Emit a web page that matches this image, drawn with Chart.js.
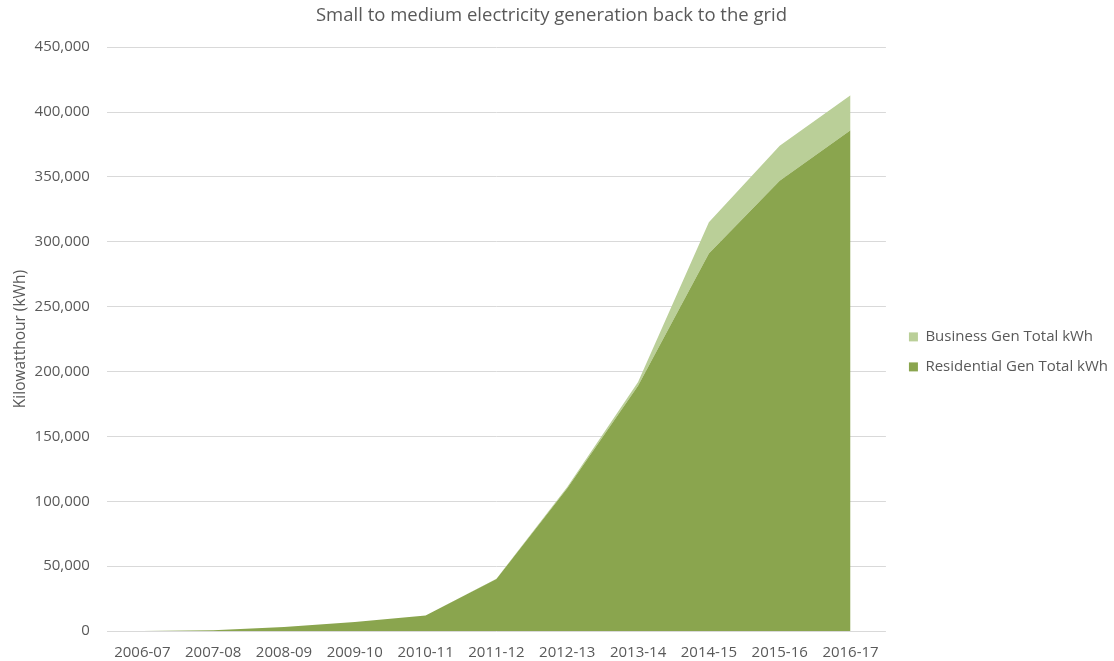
<!DOCTYPE html>
<html>
<head>
<meta charset="utf-8">
<script src="https://cdn.jsdelivr.net/npm/chart.js@4/dist/chart.umd.min.js"></script>
<style>
  html, body { margin: 0; padding: 0; background: #ffffff; }
  #wrap { width: 1114px; height: 661px; position: relative; }
</style>
</head>
<body>
<div id="wrap"><canvas id="genChart"></canvas></div>
<script>
const years = ["2006-07","2007-08","2008-09","2009-10","2010-11","2011-12","2012-13","2013-14","2014-15","2015-16","2016-17"];
const residentialKwh = [0, 500, 3000, 7000, 12000, 40000, 110000, 189000, 291000, 347000, 386000];
const businessKwh = [0, 0, 0, 0, 0, 200, 1000, 3000, 24000, 27000, 27000];
const yTicks = [0, 50000, 100000, 150000, 200000, 250000, 300000, 350000, 400000, 450000];

const color = {
  Residential: '#8aa54e',
  Business: '#bacf98',
  Text: '#595959',
  Grid: '#d9d9d9'
};

const fontFamily = "'Open Sans', 'Noto Sans', sans-serif";

const genChartData = {
  labels: years,
  datasets: [
    {
      label: "Residential Gen Total kWh",
      data: residentialKwh,
      backgroundColor: color.Residential,
      borderColor: color.Residential,
      borderWidth: 0,
      pointRadius: 0,
      fill: 'origin'
    },
    {
      label: "Business Gen Total kWh",
      data: businessKwh,
      backgroundColor: color.Business,
      borderColor: color.Business,
      borderWidth: 0,
      pointRadius: 0,
      fill: '-1'
    }
  ]
};

const genChartConfig = {
  type: "line",
  data: genChartData,
  options: {
    responsive: false,
    animation: false,
    layout: {
      padding: { left: -15, right: -4, top: 0, bottom: -14 }
    },
    plugins: {
      title: {
        display: true,
        text: "Small to medium electricity generation back to the grid",
        color: color.Text,
        font: { family: fontFamily, size: 18.5, weight: 'normal' },
        padding: { top: 5, bottom: 20 }
      },
      legend: {
        position: 'right',
        reverse: true,
        maxWidth: 240,
        // empty title only pushes the items a little lower
        title: { display: true, text: '', padding: 0, font: { size: 24 } },
        labels: {
          color: color.Text,
          font: { family: fontFamily, size: 15 },
          boxWidth: 9,
          boxHeight: 9,
          padding: 15
        }
      },
      tooltip: { enabled: false }
    },
    scales: {
      x: {
        offset: true,
        grid: { display: false, drawTicks: false },
        border: { display: false },
        ticks: {
          color: color.Text,
          font: { family: fontFamily, size: 15 },
          maxRotation: 0,
          padding: 13
        }
      },
      y: {
        stacked: true,
        min: 0,
        max: 450000,
        afterBuildTicks: (axis) => { axis.ticks = yTicks.map(v => ({ value: v })); },
        grid: { color: color.Grid, drawTicks: false },
        border: { display: false },
        title: {
          display: true,
          text: "Kilowatthour (kWh)",
          color: color.Text,
          font: { family: fontFamily, size: 15.5 },
          padding: { top: 26, bottom: -12 }
        },
        ticks: {
          color: color.Text,
          font: { family: fontFamily, size: 15 },
          padding: 17,
          callback: (v) => v.toLocaleString('en-US')
        }
      },
      // spacer between the plot and the legend
      gap: {
        type: 'linear',
        position: 'right',
        display: true,
        grid: { display: false, drawTicks: false },
        border: { display: false },
        ticks: { display: false },
        afterFit: (scale) => { scale.width = 8; }
      }
    }
  }
};

const canvas = document.getElementById("genChart");
canvas.width = 1114;
canvas.height = 661;
const genChart = new Chart(canvas, genChartConfig);
</script>
</body>
</html>
